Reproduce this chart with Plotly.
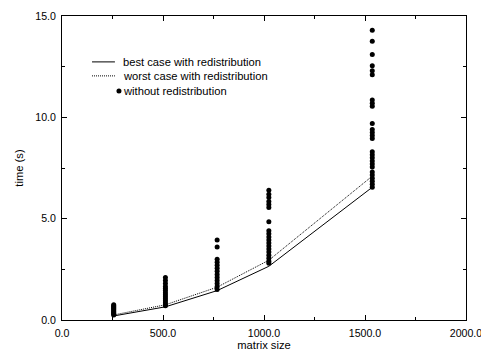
import plotly.graph_objects as go

# Data
sizes = [256, 512, 768, 1024, 1536]
best_case = [0.2, 0.65, 1.45, 2.65, 6.55]
worst_case = [0.25, 0.75, 1.62, 2.95, 7.1]

without_256 = [0.25, 0.3, 0.35, 0.4, 0.45, 0.5, 0.55, 0.6, 0.65, 0.7, 0.75]
without_512 = [2.1, 1.95, 1.8, 1.65, 1.55, 1.45, 1.35, 1.25, 1.15, 1.05, 0.95, 0.85, 0.75, 0.7]
without_768 = [3.95, 3.6, 3.0, 2.85, 2.7, 2.55, 2.4, 2.25, 2.1, 1.95, 1.8, 1.65, 1.5]
without_1024 = [6.4, 6.2, 6.05, 5.85, 5.7, 5.55, 4.85, 4.4, 4.25, 4.1, 3.95, 3.8, 3.65,
                3.5, 3.35, 3.2, 3.05, 2.9, 2.8]
without_1536 = [14.3, 13.75, 13.1, 12.55, 12.3, 12.1, 10.85, 10.7, 10.55, 9.7, 9.4, 9.25,
                9.1, 8.95, 8.3, 8.15, 8.0, 7.85, 7.7, 7.55, 7.3, 7.15, 7.0, 6.85, 6.7, 6.55]

legend_labels = ["best case with redistribution", "worst case with redistribution",
                 "without redistribution"]

x_ticks = [0, 500, 1000, 1500, 2000]
y_ticks = [0, 5, 10, 15]

FONT = "Liberation Sans, Arial, Helvetica, sans-serif"

wx, wy = [], []
for s, vals in zip(sizes, [without_256, without_512, without_768, without_1024, without_1536]):
    wx += [s] * len(vals)
    wy += vals

fig = go.Figure()
fig.add_trace(go.Scatter(x=sizes, y=best_case, mode="lines",
                         line=dict(color="black", width=1), showlegend=False,
                         name=legend_labels[0]))
fig.add_trace(go.Scatter(x=sizes, y=worst_case, mode="lines",
                         line=dict(color="black", width=1, dash="1px,1px"), showlegend=False,
                         name=legend_labels[1]))
fig.add_trace(go.Scatter(x=wx, y=wy, mode="markers",
                         marker=dict(color="black", size=5), showlegend=False,
                         name=legend_labels[2]))

# custom legend (paper coordinates)
rows = [0.849, 0.803, 0.753]
x0, x1 = 0.0743, 0.131
fig.add_shape(type="line", xref="paper", yref="paper", x0=x0, x1=x1, y0=rows[0], y1=rows[0],
              line=dict(color="black", width=1))
fig.add_shape(type="line", xref="paper", yref="paper", x0=x0, x1=x1, y0=rows[1], y1=rows[1],
              line=dict(color="black", width=1, dash="1px,1px"))
fig.add_shape(type="circle", xref="paper", yref="paper", xsizemode="pixel", ysizemode="pixel",
              xanchor=0.141, yanchor=rows[2], x0=-2.5, x1=2.5, y0=-2.5, y1=2.5,
              fillcolor="black", line=dict(color="black", width=0))
for r, lab in zip(rows, legend_labels):
    fig.add_annotation(xref="paper", yref="paper", x=0.146, y=r, text=lab, showarrow=False,
                       xanchor="left", yanchor="middle", font=dict(size=11.2, color="black", family=FONT))

axis_common = dict(showgrid=False, zeroline=False, showline=True, linecolor="black", linewidth=1,
                   mirror="ticks", ticks="inside", ticklen=5, tickcolor="black", tickwidth=1,
                   tickfont=dict(size=10.6, color="black", family=FONT), tickformat=".1f",
                   ticklabeloverflow="allow", automargin=False)

fig.update_xaxes(range=[0, 2000], tickvals=x_ticks, ticklabelstandoff=3,
                 title=dict(text="matrix size", standoff=2,
                            font=dict(size=11.2, color="black", family=FONT)),
                 minor=dict(ticks="inside", ticklen=3, dtick=250, tickcolor="black", tickwidth=1),
                 **axis_common)
fig.update_yaxes(range=[0, 15], tickvals=y_ticks, ticklabelstandoff=3,
                 title=dict(text="time (s)", standoff=9,
                            font=dict(size=11.2, color="black", family=FONT)),
                 minor=dict(ticks="inside", ticklen=3, dtick=2.5, tickcolor="black", tickwidth=1),
                 **axis_common)

fig.update_layout(width=481, height=354, margin=dict(l=62, r=15, t=16, b=34),
                  plot_bgcolor="white", paper_bgcolor="white",
                  font=dict(family=FONT, size=10, color="black"))

fig.write_html("out.html")
